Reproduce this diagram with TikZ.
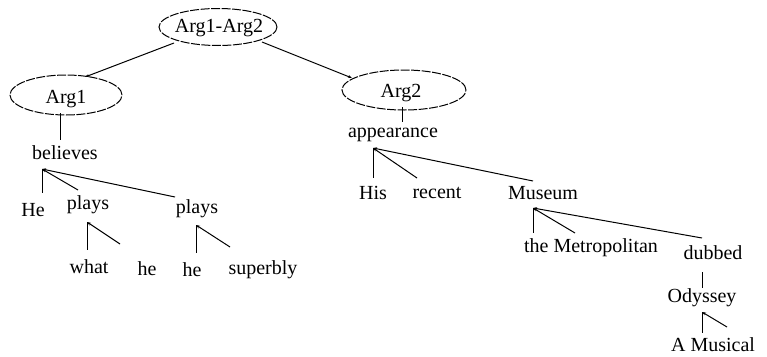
\documentclass[tikz,border=0pt]{standalone}
\usepackage{fontspec}
\setmainfont{Liberation Serif}
\usetikzlibrary{arrows.meta,shapes.geometric}
\begin{document}
\begin{tikzpicture}[x=1pt,y=-1pt,
  font=\fontsize{20}{23}\selectfont,
  lbl/.style={inner sep=0pt},
  oval/.style={draw, ellipse, inner sep=0pt, dash pattern=on 9pt off 1.5pt, line width=1pt},
  edge/.style={line width=1pt},
  dep/.style={line width=1pt, {Stealth[length=4pt,width=3pt]}-},
  depe/.style={line width=1pt, -{Stealth[length=4pt,width=3pt]}}]
\useasboundingbox (0,0) rectangle (767,356);
% ovals
\node[oval, minimum width=118pt, minimum height=37pt] (root) at (218,27) {};
\node[oval, minimum width=112pt, minimum height=40pt] (arg1) at (66,95) {};
\node[oval, minimum width=124pt, minimum height=40pt] (arg2) at (404,90) {};
\node[lbl] (rootT) at (219,28.5) {Arg1-Arg2};
\node[lbl] (arg1T) at (66,99) {Arg1};
\node[lbl] (arg2T) at (401,93.5) {Arg2};
% words
\node[lbl] (believes) at (65,153) {believes};
\node[lbl] (he1) at (33,210) {He};
\node[lbl] (plays1) at (88,205) {plays};
\node[lbl] (plays2) at (197,209) {plays};
\node[lbl] (what) at (89,267) {what};
\node[lbl] (he2) at (147,269) {he};
\node[lbl] (he3) at (192,270) {he};
\node[lbl] (superbly) at (263,270) {superbly};
\node[lbl] (appearance) at (393,135) {appearance};
\node[lbl] (his) at (373,193) {His};
\node[lbl] (recent) at (437,193) {recent};
\node[lbl] (museum) at (543,193) {Museum};
\node[lbl] (metro) at (591,248) {the Metropolitan};
\node[lbl] (dubbed) at (713,253) {dubbed};
\node[lbl] (odyssey) at (702,298) {Odyssey};
\node[lbl] (musical) at (713,345) {A Musical};
% connector points
\coordinate (rA) at (174,43); \coordinate (rAe) at (85,77);
\coordinate (rB) at (262,42); \coordinate (rBe) at (352,78);
\coordinate (a1s) at (60,113); \coordinate (a1e) at (60,140);
\coordinate (b0) at (42,169);
\coordinate (b1) at (42,193); \coordinate (b2) at (78,190); \coordinate (b3) at (175,197);
\coordinate (p10) at (87,222); \coordinate (p11) at (87,250); \coordinate (p12) at (120,244);
\coordinate (p20) at (196,225); \coordinate (p21) at (196,253); \coordinate (p22) at (230,247);
\coordinate (a2s) at (402,107); \coordinate (a2e) at (402,122);
\coordinate (ap0) at (373,148);
\coordinate (ap1) at (373,178); \coordinate (ap2) at (417,178); \coordinate (ap3) at (533,181);
\coordinate (m0) at (533,208);
\coordinate (m1) at (533,233); \coordinate (m2) at (575,233); \coordinate (m3) at (702,238);
\coordinate (d0) at (702,272); \coordinate (d1) at (702,288);
\coordinate (o0) at (702,312); \coordinate (o1) at (702,333); \coordinate (o2) at (727,327);
% connectors
\draw[depe] (rA) -- (rAe);
\draw[depe] (rB) -- (rBe);
\draw[edge] (a1s) -- (a1e);
\draw[edge] (b0) -- (b1);
\draw[dep] (b0) -- (b2);
\draw[dep] (b0) -- (b3);
\draw[edge] (p10) -- (p11);
\draw[dep] (p10) -- (p12);
\draw[edge] (p20) -- (p21);
\draw[dep] (p20) -- (p22);
\draw[edge] (a2s) -- (a2e);
\draw[edge] (ap0) -- (ap1);
\draw[dep] (ap0) -- (ap2);
\draw[dep] (ap0) -- (ap3);
\draw[edge] (m0) -- (m1);
\draw[dep] (m0) -- (m2);
\draw[dep] (m0) -- (m3);
\draw[edge] (d0) -- (d1);
\draw[edge] (o0) -- (o1);
\draw[dep] (o0) -- (o2);
\end{tikzpicture}
\end{document}
